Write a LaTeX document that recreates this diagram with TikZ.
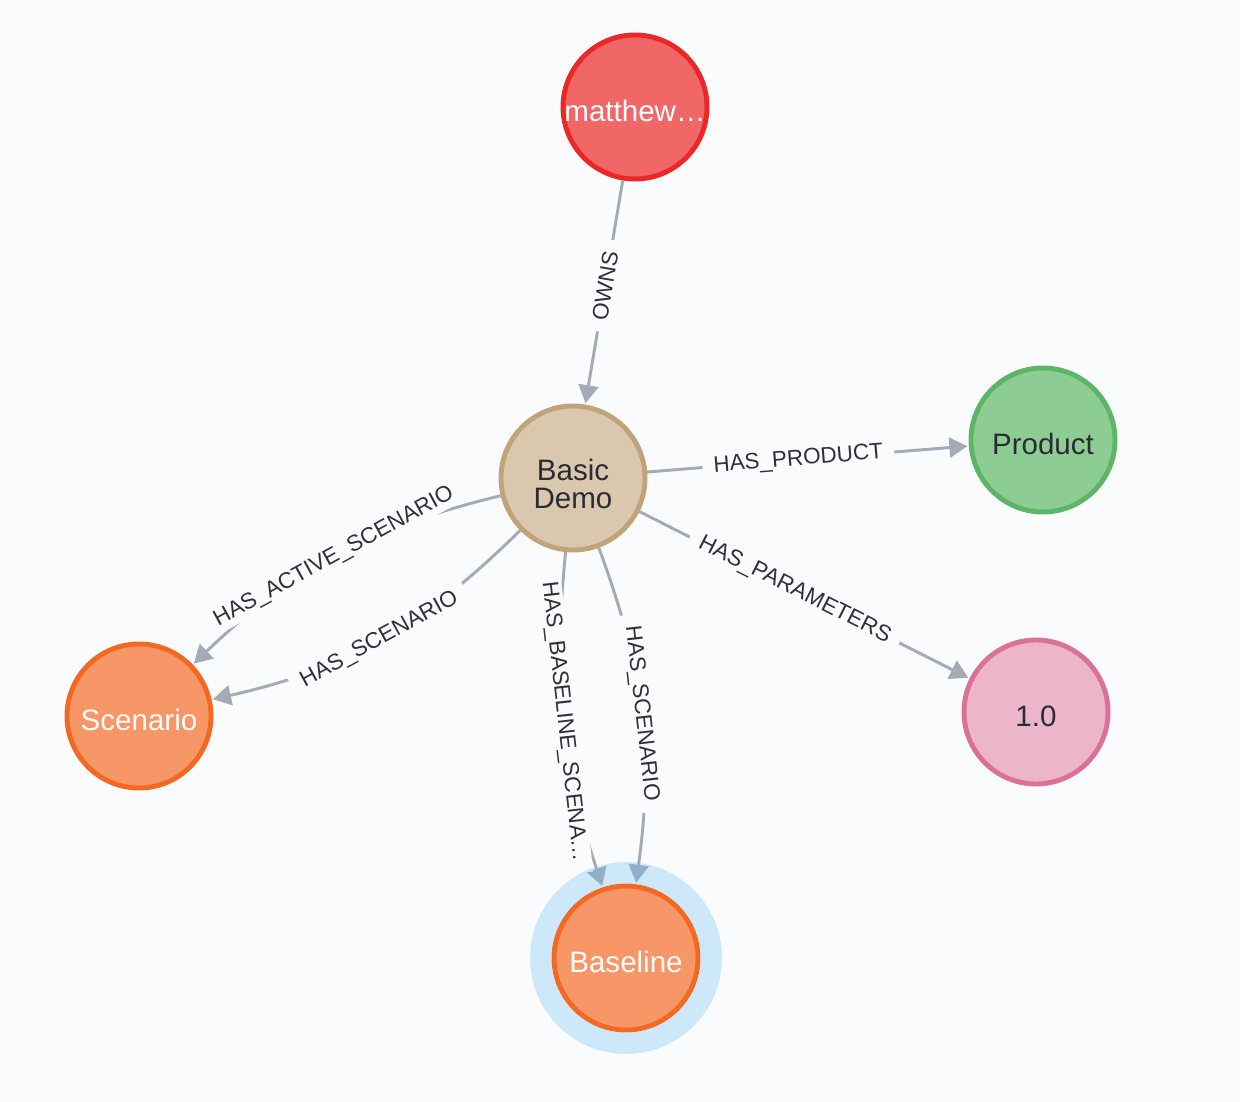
\documentclass[tikz,border=0pt]{standalone}
\usepackage{fontspec}
\setmainfont{Liberation Sans}
\usetikzlibrary{arrows.meta}

\definecolor{canvas}{HTML}{F9FBFD}
\definecolor{edgegray}{HTML}{A5ABB6}
\definecolor{labelgray}{HTML}{2F3138}
\definecolor{darktext}{HTML}{2A2C34}
\definecolor{redfill}{HTML}{F16667}
\definecolor{redline}{HTML}{EB2728}
\definecolor{tanfill}{HTML}{D9C8AE}
\definecolor{tanline}{HTML}{C0A378}
\definecolor{greenfill}{HTML}{8DCC93}
\definecolor{greenline}{HTML}{5DB665}
\definecolor{pinkfill}{HTML}{ECB5C9}
\definecolor{pinkline}{HTML}{DA7298}
\definecolor{orangefill}{HTML}{F79767}
\definecolor{orangeline}{HTML}{F36924}
\definecolor{halo}{RGB}{102,190,243}

\begin{document}
\begin{tikzpicture}[>={Triangle[length=4.5mm, width=5mm]},
	every node/.style={font=\fontsize{21}{20.5}\selectfont},
	entity/.style={circle, draw, line width=3.5pt, minimum size=3.6cm, inner sep=0pt, align=center, text height=21pt, text depth=0pt},
	rel/.style={->, draw=edgegray, line width=2.1pt, shorten >=1pt},
	rellabel/.style={sloped, fill=canvas, text=labelgray, inner xsep=8pt, inner ysep=2pt, font=\fontsize{16}{18}\selectfont}]
	\fill[canvas] (0,0) rectangle (31,-27.55);

	% nodes
	\node[entity, fill=redfill, draw=redline, text=white] (owner) at (15.875,-2.675) {matthew…};
	\node[entity, fill=tanfill, draw=tanline, text=darktext, text height=44pt] (demo) at (14.325,-11.95) {Basic\\Demo};
	\node[entity, fill=greenfill, draw=greenline, text=darktext] (product) at (26.075,-11.0) {Product};
	\node[entity, fill=pinkfill, draw=pinkline, text=darktext] (params) at (25.9,-17.8) {1.0};
	\node[entity, fill=orangefill, draw=orangeline, text=white] (scen) at (3.475,-17.9) {Scenario};
	\node[entity, fill=orangefill, draw=orangeline, text=white] (base) at (15.65,-23.95) {Baseline};

	% relationships
	\draw[rel] (owner) -- node[rellabel, pos=0.47] {OWNS} (demo);
	\draw[rel] (demo) -- node[rellabel, pos=0.47] {HAS\_PRODUCT} (product);
	\draw[rel] (demo) -- node[rellabel, pos=0.47] {HAS\_PARAMETERS} (params);
	\draw[rel] (demo) to[bend right=15] node[rellabel] {HAS\_ACTIVE\_SCENARIO} (scen);
	\draw[rel] (demo) to[bend left=16] node[rellabel] {HAS\_SCENARIO} (scen);
	\draw[rel] (demo) to[bend right=12] node[rellabel] {HAS\_BASELINE\_SCENA…} (base);
	\draw[rel] (demo) to[bend left=14] node[rellabel] {HAS\_SCENARIO} (base);

	% selection ring
	\fill[halo, fill opacity=0.3, even odd rule] (base) circle[radius=2.4] circle[radius=1.865];
\end{tikzpicture}
\end{document}
